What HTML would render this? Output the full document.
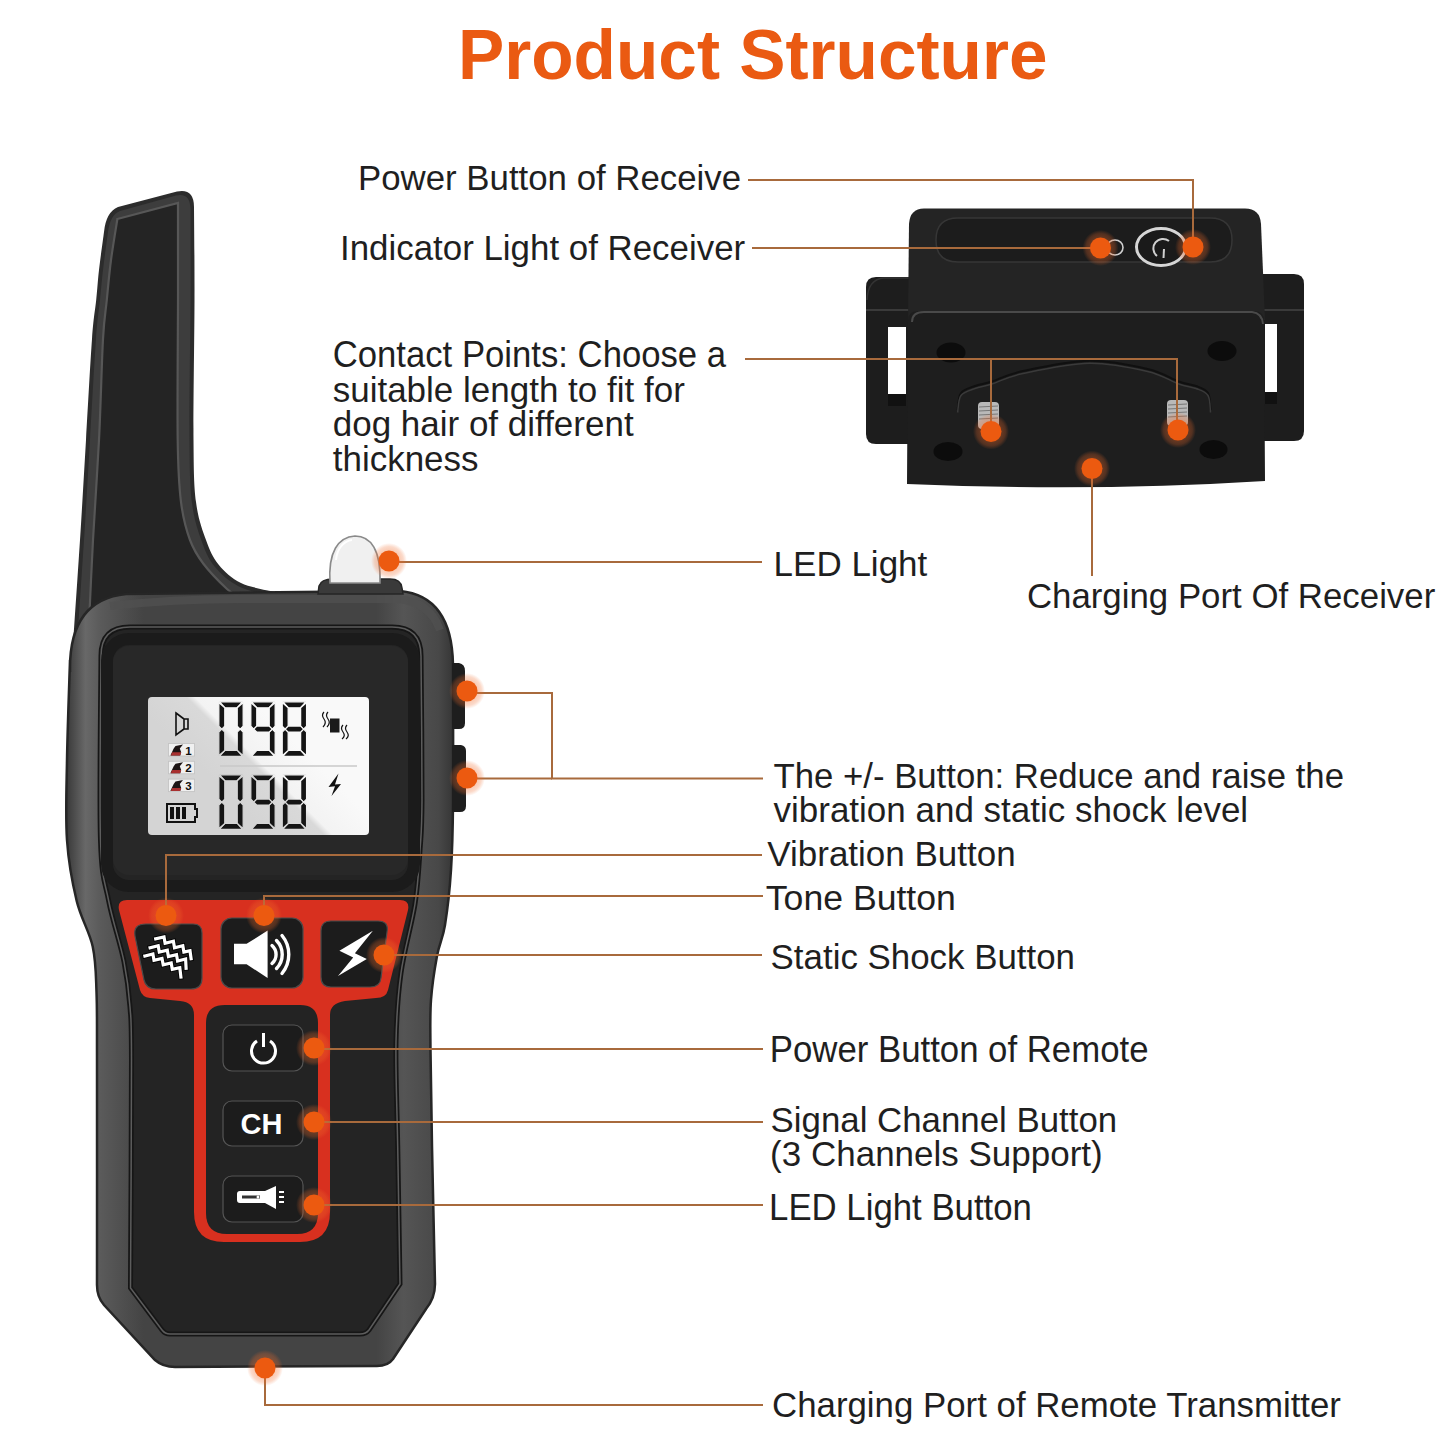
<!DOCTYPE html>
<html><head><meta charset="utf-8">
<style>
html,body{margin:0;padding:0;background:#fff;width:1445px;height:1445px;overflow:hidden}
svg{position:absolute;left:0;top:0}
.t{font-family:"Liberation Sans",sans-serif;font-size:36px;fill:#1f1f1f}
.title{font-family:"Liberation Sans",sans-serif;font-weight:bold;font-size:71px;fill:#ea5a12}
</style></head><body>
<svg width="1445" height="1445" viewBox="0 0 1445 1445">
<defs>
  <linearGradient id="bodyg" gradientUnits="userSpaceOnUse" x1="66" y1="0" x2="454" y2="0">
    <stop offset="0" stop-color="#383838"/>
    <stop offset="0.05" stop-color="#686868"/>
    <stop offset="0.09" stop-color="#5a5a5a"/>
    <stop offset="0.2" stop-color="#444"/>
    <stop offset="0.8" stop-color="#444"/>
    <stop offset="0.87" stop-color="#555"/>
    <stop offset="0.96" stop-color="#484848"/>
    <stop offset="1" stop-color="#353535"/>
  </linearGradient>
  <radialGradient id="halo">
    <stop offset="0.5" stop-color="#f06a2a" stop-opacity="0.4"/>
    <stop offset="0.8" stop-color="#f06a2a" stop-opacity="0.25"/>
    <stop offset="1" stop-color="#f06a2a" stop-opacity="0"/>
  </radialGradient>
  <linearGradient id="lcd" gradientUnits="userSpaceOnUse" x1="229" y1="796" x2="289" y2="736">
    <stop offset="0" stop-color="#d4d4d4"/>
    <stop offset="0.47" stop-color="#d9d9d9"/>
    <stop offset="0.54" stop-color="#f3f3f3"/>
    <stop offset="1" stop-color="#f9f9f9"/>
  </linearGradient>
</defs>

<!-- TITLE -->
<text class="title" x="458" y="79" textLength="589.5" lengthAdjust="spacingAndGlyphs">Product Structure</text>

<!-- ============ REMOTE ============ -->
<g id="remote">
  <!-- antenna -->
  <path d="M104,232 Q106,212 118,207 L177,191.5 Q194,188 194,207 C194.1,222.5 194.6,261.2 194.5,300.0 C194.4,338.8 193.2,406.3 193.5,440.0 C193.8,473.7 193.9,485.3 196.0,502.0 C198.1,518.7 202.2,529.6 206.0,540.0 C209.8,550.4 212.7,557.3 218.5,564.5 C224.3,571.7 231.6,578.4 241.0,583.0 C250.4,587.6 269.3,590.5 275.0,592.0 L300,600 L73,660 L73,645 C74.2,627.5 77.8,574.2 80.0,540.0 C82.2,505.8 84.0,473.5 86.0,440.0 C88.0,406.5 90.3,362.3 92.0,339.0 C93.7,315.7 95.0,311.5 96.2,300.0 C97.4,288.5 97.7,281.3 99.0,270.0 C100.3,258.7 103.2,238.3 104.0,232.0 Z" fill="#2c2c2c"/>
  <path d="M108,232 Q110,215 120,211 L176,195.5 Q190.5,192 190.5,210 C190.5,225.0 190.7,261.7 190.5,300.0 C190.3,338.3 189.2,406.2 189.5,440.0 C189.8,473.8 189.9,486.0 192.0,503.0 C194.1,520.0 198.2,531.3 202.0,542.0 C205.8,552.7 209.0,559.7 215.0,567.0 C221.0,574.3 228.8,581.2 238.0,586.0 C247.2,590.8 264.7,594.3 270.0,596.0 L300,600 L77,660 L77,645 C78.2,627.5 81.8,574.2 84.0,540.0 C86.2,505.8 88.0,473.5 90.0,440.0 C92.0,406.5 94.3,362.3 96.0,339.0 C97.7,315.7 98.8,311.5 100.0,300.0 C101.2,288.5 101.7,281.3 103.0,270.0 C104.3,258.7 107.2,238.3 108.0,232.0 Z" fill="#3d3d3d"/>
  <path d="M117.4,219 L178,203 C178.0,219.2 178.1,260.5 178.0,300.0 C177.9,339.5 177.2,406.3 177.7,440.0 C178.2,473.7 178.9,485.3 181.0,502.0 C183.1,518.7 186.2,529.7 190.0,540.0 C193.8,550.3 197.4,555.8 203.6,564.0 C209.8,572.2 220.9,583.3 227.0,589.0 C233.1,594.7 237.8,596.5 240.0,598.0 L88,660 L88,645 C88.8,627.5 91.2,574.2 93.0,540.0 C94.8,505.8 97.3,473.5 99.0,440.0 C100.7,406.5 101.7,362.3 103.0,339.0 C104.3,315.7 105.5,313.2 106.8,300.0 C108.1,286.8 109.2,273.5 111.0,260.0 C112.8,246.5 116.3,225.8 117.4,219.0 Z" fill="#242424" stroke="#575757" stroke-width="2.2"/>
  <!-- body outer -->
  <path d="M70,672 C69,626 86,598 126,594 L400,591 Q452,596 453,665 C453.0,688.2 453.3,769.8 453.0,804.0 C452.7,838.2 452.3,849.8 451.0,870.0 C449.7,890.2 447.3,910.7 445.0,925.0 C442.7,939.3 439.3,943.5 437.0,956.0 C434.7,968.5 432.1,984.3 431.0,1000.0 C429.9,1015.7 430.3,1025.7 430.5,1050.0 C430.7,1074.3 431.2,1107.0 432.0,1146.0 C432.8,1185.0 434.5,1261.0 435.0,1284.0 Q435,1298 426,1309 L393,1359 Q388,1366 377,1366 L175,1367 Q163,1367 155,1360 L104,1305 Q97,1297 97,1285 C97.0,1247.5 97.1,1108.8 97.0,1060.0 C96.9,1011.2 97.2,1010.9 96.5,992.0 C95.8,973.1 96.0,961.7 92.7,946.5 C89.4,931.3 81.0,918.8 76.7,901.0 C72.4,883.2 68.6,863.5 67.0,840.0 C65.4,816.5 66.5,790.0 67.0,760.0 C67.5,730.0 69.5,676.7 70.0,660.0 Z" fill="url(#bodyg)" stroke="#262626" stroke-width="2.5"/>
  <!-- top rim highlight -->
  <path d="M110,606 Q180,598 260,599 L398,599 Q430,602 440,630" fill="none" stroke="#505050" stroke-width="8" opacity="0.8"/>
  <!-- inner face -->
  <path d="M101,656 Q101,627 130,627 L392,627 Q421,627 421,656 C421.2,680.0 422.2,767.7 422.0,800.0 C421.8,832.3 421.2,832.7 420.0,850.0 C418.8,867.3 418.2,883.5 415.0,904.0 C411.8,924.5 404.2,950.0 401.0,973.0 C397.8,996.0 396.6,1013.2 396.0,1042.0 C395.4,1070.8 397.0,1105.7 397.7,1146.0 C398.4,1186.3 399.6,1261.0 400.0,1284.0 L369,1330 Q366,1334 360,1334 L170,1334 Q165,1334 162,1330 L130.5,1288 C130.7,1250.0 131.6,1106.8 131.5,1060.0 C131.4,1013.2 131.2,1023.4 130.0,1007.0 C128.8,990.6 127.5,979.4 124.0,961.7 C120.5,944.0 112.6,921.3 108.7,901.0 C104.8,880.7 101.8,880.8 100.5,840.0 C99.2,799.2 100.9,686.7 101.0,656.0 Z" fill="#242424" stroke="#161616" stroke-width="5"/>
  <path d="M101,656 Q101,627 130,627 L392,627 Q421,627 421,656 C421.2,680.0 422.2,767.7 422.0,800.0 C421.8,832.3 421.2,832.7 420.0,850.0 C418.8,867.3 418.2,883.5 415.0,904.0 C411.8,924.5 404.2,950.0 401.0,973.0 C397.8,996.0 396.6,1013.2 396.0,1042.0 C395.4,1070.8 397.0,1105.7 397.7,1146.0 C398.4,1186.3 399.6,1261.0 400.0,1284.0 L369,1330 Q366,1334 360,1334 L170,1334 Q165,1334 162,1330 L130.5,1288 C130.7,1250.0 131.6,1106.8 131.5,1060.0 C131.4,1013.2 131.2,1023.4 130.0,1007.0 C128.8,990.6 127.5,979.4 124.0,961.7 C120.5,944.0 112.6,921.3 108.7,901.0 C104.8,880.7 101.8,880.8 100.5,840.0 C99.2,799.2 100.9,686.7 101.0,656.0 Z" fill="none" stroke="#5c5c5c" stroke-width="1.5"/>
  <!-- screen glass -->
  <rect x="107" y="639" width="307" height="247" rx="22" fill="none" stroke="#1b1b1b" stroke-width="12"/>
  <rect x="113" y="646" width="295" height="229" rx="16" fill="#282828"/>
  <!-- LCD -->
  <rect x="148" y="697" width="221" height="138" rx="4" fill="url(#lcd)"/>
  <line x1="220" y1="766" x2="357" y2="766" stroke="#c9c9c9" stroke-width="1.6"/>
  <g fill="#151515" stroke="url(#lcd)" stroke-width="1.3" stroke-linejoin="round"><polygon points="219.40,701.80 242.60,701.80 237.20,707.80 224.80,707.80"/><polygon points="243.20,702.40 237.20,707.80 237.20,726.10 240.20,729.10 243.20,726.10"/><polygon points="243.20,732.10 240.20,729.10 237.20,732.10 237.20,750.40 243.20,755.80"/><polygon points="219.40,756.40 242.60,756.40 237.20,750.40 224.80,750.40"/><polygon points="218.80,732.10 221.80,729.10 224.80,732.10 224.80,750.40 218.80,755.80"/><polygon points="218.80,702.40 224.80,707.80 224.80,726.10 221.80,729.10 218.80,726.10"/><polygon points="251.40,701.80 274.60,701.80 269.20,707.80 256.80,707.80"/><polygon points="275.20,702.40 269.20,707.80 269.20,726.10 272.20,729.10 275.20,726.10"/><polygon points="275.20,732.10 272.20,729.10 269.20,732.10 269.20,750.40 275.20,755.80"/><polygon points="251.40,756.40 274.60,756.40 269.20,750.40 256.80,750.40"/><polygon points="250.80,702.40 256.80,707.80 256.80,726.10 253.80,729.10 250.80,726.10"/><polygon points="253.80,729.10 256.80,726.10 269.20,726.10 272.20,729.10 269.20,732.10 256.80,732.10"/><polygon points="282.80,701.80 306.00,701.80 300.60,707.80 288.20,707.80"/><polygon points="306.60,702.40 300.60,707.80 300.60,726.10 303.60,729.10 306.60,726.10"/><polygon points="306.60,732.10 303.60,729.10 300.60,732.10 300.60,750.40 306.60,755.80"/><polygon points="282.80,756.40 306.00,756.40 300.60,750.40 288.20,750.40"/><polygon points="282.20,732.10 285.20,729.10 288.20,732.10 288.20,750.40 282.20,755.80"/><polygon points="282.20,702.40 288.20,707.80 288.20,726.10 285.20,729.10 282.20,726.10"/><polygon points="285.20,729.10 288.20,726.10 300.60,726.10 303.60,729.10 300.60,732.10 288.20,732.10"/><polygon points="219.40,774.80 242.60,774.80 237.20,780.80 224.80,780.80"/><polygon points="243.20,775.40 237.20,780.80 237.20,799.10 240.20,802.10 243.20,799.10"/><polygon points="243.20,805.10 240.20,802.10 237.20,805.10 237.20,823.40 243.20,828.80"/><polygon points="219.40,829.40 242.60,829.40 237.20,823.40 224.80,823.40"/><polygon points="218.80,805.10 221.80,802.10 224.80,805.10 224.80,823.40 218.80,828.80"/><polygon points="218.80,775.40 224.80,780.80 224.80,799.10 221.80,802.10 218.80,799.10"/><polygon points="251.40,774.80 274.60,774.80 269.20,780.80 256.80,780.80"/><polygon points="275.20,775.40 269.20,780.80 269.20,799.10 272.20,802.10 275.20,799.10"/><polygon points="275.20,805.10 272.20,802.10 269.20,805.10 269.20,823.40 275.20,828.80"/><polygon points="251.40,829.40 274.60,829.40 269.20,823.40 256.80,823.40"/><polygon points="250.80,775.40 256.80,780.80 256.80,799.10 253.80,802.10 250.80,799.10"/><polygon points="253.80,802.10 256.80,799.10 269.20,799.10 272.20,802.10 269.20,805.10 256.80,805.10"/><polygon points="282.80,774.80 306.00,774.80 300.60,780.80 288.20,780.80"/><polygon points="306.60,775.40 300.60,780.80 300.60,799.10 303.60,802.10 306.60,799.10"/><polygon points="306.60,805.10 303.60,802.10 300.60,805.10 300.60,823.40 306.60,828.80"/><polygon points="282.80,829.40 306.00,829.40 300.60,823.40 288.20,823.40"/><polygon points="282.20,805.10 285.20,802.10 288.20,805.10 288.20,823.40 282.20,828.80"/><polygon points="282.20,775.40 288.20,780.80 288.20,799.10 285.20,802.10 282.20,799.10"/><polygon points="285.20,802.10 288.20,799.10 300.60,799.10 303.60,802.10 300.60,805.10 288.20,805.10"/></g>
  <!-- LCD icons -->
  <path d="M176,713 L184,719 L184,729 L176,735 Z M184,719 L188,719 L188,729 L184,729" fill="none" stroke="#111" stroke-width="1.6"/>
  <g>
    <rect x="168.5" y="743.5" width="26" height="12.5" fill="#f0f0f0" stroke="#c4c4c4" stroke-width="0.9"/>
    <path d="M170.4,755.5 L173.7,748.5 L175.5,746.0 L183,744.5 L179.8,748.5 L181.2,752.3 L180.2,755.5 Z" fill="#1c1414"/>
    <path d="M172.2,752.3 L181.2,752.3 L180.2,755.5 L170.8,755.5 Z" fill="#a83030"/>
    <text x="185.3" y="754.5" font-family="Liberation Sans" font-weight="bold" font-size="11.5" fill="#111">1</text>
    <rect x="168.5" y="761.3" width="26" height="12.5" fill="#f0f0f0" stroke="#c4c4c4" stroke-width="0.9"/>
    <path d="M170.4,773.3 L173.7,766.3 L175.5,763.8 L183,762.3 L179.8,766.3 L181.2,770.1 L180.2,773.3 Z" fill="#1c1414"/>
    <path d="M172.2,770.1 L181.2,770.1 L180.2,773.3 L170.8,773.3 Z" fill="#a83030"/>
    <text x="185.3" y="772.3" font-family="Liberation Sans" font-weight="bold" font-size="11.5" fill="#111">2</text>
    <rect x="168.5" y="779.1" width="26" height="12.5" fill="#f0f0f0" stroke="#c4c4c4" stroke-width="0.9"/>
    <path d="M170.4,791.1 L173.7,784.1 L175.5,781.6 L183,780.1 L179.8,784.1 L181.2,787.9 L180.2,791.1 Z" fill="#1c1414"/>
    <path d="M172.2,787.9 L181.2,787.9 L180.2,791.1 L170.8,791.1 Z" fill="#a83030"/>
    <text x="185.3" y="790.1" font-family="Liberation Sans" font-weight="bold" font-size="11.5" fill="#111">3</text>
  </g>
  <path d="M167,804 L195,804 L195,809 L197,809 L197,817 L195,817 L195,822 L167,822 Z" fill="none" stroke="#111" stroke-width="2"/>
  <rect x="170" y="807" width="4" height="12" fill="#111"/>
  <rect x="176" y="807" width="4" height="12" fill="#111"/>
  <rect x="182" y="807" width="4" height="12" fill="#111"/>
  <rect x="330" y="718.5" width="9.5" height="14" fill="#1a1a1a"/>
  <path d="M324,712 Q321,715 324,719 Q327,723 323,727 M328,712 Q325,715 328,719 Q331,723 327,727 M343,725 Q340,728 343,732 Q346,736 342,739 M347,725 Q344,728 347,732 Q350,736 346,739" fill="none" stroke="#111" stroke-width="1.2"/>
  <path d="M338.5,773.5 L328.5,787 L335,786.3 L331.5,796 L341,784 L335,784.6 Z" fill="#111"/>
  <!-- LED dome base -->
  <path d="M318,594 L319,586 Q321,579 333,579 L390,579 Q401,579 402,588 L403,594 Z" fill="#3a3a3a" stroke="#262626" stroke-width="1.5"/>
  <path d="M330,583 C328,552 338,537 355,536 C371,536 381,550 380,583 Z" fill="#f0f0f0" stroke="#8a8a8a" stroke-width="1.6"/>
  <path d="M336,560 C337,548 344,541 352,540" fill="none" stroke="#fff" stroke-width="2"/>
  <!-- side buttons -->
  <path d="M452,663 L459,663 Q465,664 465,671 L465,723 Q465,729 459,729 L452,729 Z" fill="#1e1e1e"/>
  <path d="M452,745 L461,745 Q466,746 466,751 L466,806 Q466,812 460,812 L452,812 Z" fill="#1e1e1e"/>

  <!-- red T panel -->
  <path d="M127,900 L400,900 Q410,900 408,910 L388,990 Q386,998 376,998 L345,1001 Q330,1003 330,1015 L330,1212 Q330,1242 300,1242 L224,1242 Q194,1242 194,1212 L194,1015 Q194,1002 180,1001 L150,998 Q142,997 140,990 L119,910 Q117,900 127,900 Z" fill="#d8301f"/>
  <!-- dark stem -->
  <path d="M225,1005 L300,1005 Q318,1005 318,1023 L318,1213 Q318,1234 297,1234 L227,1234 Q206,1234 206,1213 L206,1023 Q206,1005 225,1005 Z" fill="#232323"/>
  <!-- top buttons -->
  <path d="M146,924 L193,924 Q202,924 202,933 L202,978 Q202,989 191,989 L156,989 Q146,989 144,980 L135,936 Q133,924 146,924 Z" fill="#1c1c1c" stroke="#4a4a4a" stroke-width="1.2"/>
  <rect x="221" y="918" width="82" height="70" rx="11" fill="#1c1c1c" stroke="#4a4a4a" stroke-width="1.2"/>
  <path d="M331,921 L378,921 Q389,921 387,932 L381,978 Q380,987 370,987 L331,987 Q321,987 321,977 L321,931 Q321,921 331,921 Z" fill="#1c1c1c" stroke="#4a4a4a" stroke-width="1.2"/>
  <!-- vibration zigzags -->
  <g fill="none" stroke-linejoin="miter" stroke-linecap="square">
    <g stroke="#000" stroke-width="5">
      <path d="M155.7,938.8 L164,936.9 L165.1,943.2 L173.4,941.3 L174.5,947.7 L182.8,945.7 L183.9,952.1 L190,950.7 L191.1,958.7"/>
      <path d="M150.1,947.7 L158.2,945.7 L159.3,952.1 L167.3,950.2 L168.4,956.5 L176.5,954.6 L177.6,961 L185.6,959 L186.1,968.2"/>
      <path d="M144.9,956 L152.9,954 L154,960.4 L162,958.5 L163.2,964.8 L171.2,962.9 L172.3,969.3 L179.8,967.6 L180.9,977"/>
    </g>
    <g stroke="#fff" stroke-width="3.2">
      <path d="M155.7,938.8 L164,936.9 L165.1,943.2 L173.4,941.3 L174.5,947.7 L182.8,945.7 L183.9,952.1 L190,950.7 L191.1,958.7"/>
      <path d="M150.1,947.7 L158.2,945.7 L159.3,952.1 L167.3,950.2 L168.4,956.5 L176.5,954.6 L177.6,961 L185.6,959 L186.1,968.2"/>
      <path d="M144.9,956 L152.9,954 L154,960.4 L162,958.5 L163.2,964.8 L171.2,962.9 L172.3,969.3 L179.8,967.6 L180.9,977"/>
    </g>
  </g>
  <!-- speaker icon -->
  <path d="M234,943.8 L246.6,943.8 L267.6,930.6 L267.6,978 L246.6,964.2 L234,964.2 Z" fill="#fff"/>
  <g fill="none" stroke="#fff" stroke-width="3.4" stroke-linecap="round">
    <path d="M272,945.5 A12,12 0 0,1 272,963.5"/>
    <path d="M276.5,940.5 A20,20 0 0,1 276.5,968.5"/>
    <path d="M282,935.5 A30,30 0 0,1 282,973.5"/>
  </g>
  <!-- lightning -->
  <path d="M372.9,930.8 L339.4,950.7 L353.2,957.6 L338,975.9 L366.8,959 L354.9,953.2 Z" fill="#fff"/>
  <!-- lower buttons -->
  <rect x="223" y="1025" width="80" height="46" rx="9" fill="#1c1c1c" stroke="#555" stroke-width="1.2"/>
  <rect x="223" y="1101" width="80" height="45" rx="9" fill="#1c1c1c" stroke="#555" stroke-width="1.2"/>
  <rect x="223" y="1176" width="80" height="46" rx="9" fill="#1c1c1c" stroke="#555" stroke-width="1.2"/>
  <path d="M257,1041 A12,12 0 1,0 270,1041" fill="none" stroke="#fff" stroke-width="3"/>
  <line x1="263.5" y1="1033" x2="263.5" y2="1047" stroke="#fff" stroke-width="3"/>
  <text x="261.5" y="1133.5" text-anchor="middle" font-family="Liberation Sans" font-weight="bold" font-size="29" fill="#fff">CH</text>
  <path d="M240,1191 L265,1191 L276,1186 L276,1209 L265,1203 L240,1203 Q237,1203 237,1200 L237,1194 Q237,1191 240,1191 Z" fill="#fff"/>
  <rect x="242" y="1195.5" width="18" height="3" fill="#333"/>
  <circle cx="258" cy="1197" r="1.5" fill="#fff"/>
  <g stroke="#fff" stroke-width="2"><line x1="279" y1="1192" x2="284" y2="1192"/><line x1="279" y1="1197" x2="284" y2="1197"/><line x1="279" y1="1202" x2="284" y2="1202"/></g>
</g>

<!-- ============ RECEIVER ============ -->
<g id="receiver">
  <!-- strap loops -->
  <path d="M876,277 L912,277 L912,444 L876,444 Q866,444 866,434 L866,287 Q866,277 876,277 Z" fill="#1d1d1d"/>
  <rect x="888" y="327" width="18" height="67" fill="#ffffff"/>
  <path d="M1255,274 L1294,274 Q1304,274 1304,284 L1304,431 Q1304,441 1294,441 L1255,441 Z" fill="#1d1d1d"/>
  <rect x="1265" y="324" width="12" height="68" fill="#ffffff"/>
  <path d="M866,310 L910,310" stroke="#3a3a3a" stroke-width="2"/>
  <path d="M867,300 Q868,279 884,278 L910,278" fill="none" stroke="#333" stroke-width="1.5"/>
  <path d="M1304,310 L1262,310" stroke="#3a3a3a" stroke-width="2"/>
  <rect x="888" y="394" width="18" height="12" fill="#111"/>
  <rect x="1265" y="392" width="12" height="12" fill="#111"/>
  <!-- top box -->
  <path d="M924,208.5 L1245,208.5 Q1260,208.5 1261,224 L1265,320 L908,320 L909,224 Q910,208.5 924,208.5 Z" fill="#242424"/>
  <!-- pill strip -->
  <path d="M958,218 L1210,218 Q1232,218 1232,240 Q1232,262 1210,262 L958,262 Q936,262 936,240 Q936,218 958,218 Z" fill="#1c1c1c" stroke="#363636" stroke-width="1.5"/>
  <ellipse cx="1115" cy="247.5" rx="8" ry="7.5" fill="none" stroke="#cfcfcf" stroke-width="1.6"/>
  <ellipse cx="1161" cy="247" rx="24.5" ry="18.5" fill="#1a1a1a" stroke="#d6d6d6" stroke-width="3"/>
  <path d="M1169,241 A9.5,9.5 0 1,0 1157,256" fill="none" stroke="#d0d0d0" stroke-width="2"/>
  <line x1="1164" y1="249" x2="1163.5" y2="258" stroke="#d0d0d0" stroke-width="2"/>
  <!-- front face -->
  <path d="M918,311 L1254,311 Q1264,311 1264,321 L1265,481 Q1090,492 907,484 L908,321 Q908,311 918,311 Z" fill="#1e1e1e"/>
  <path d="M912,322 Q912,312 924,312 L1252,312 Q1262,313 1263,324" fill="none" stroke="#4a4a4a" stroke-width="2"/>
  <!-- holes -->
  <ellipse cx="951" cy="352.5" rx="14.5" ry="10" fill="#0c0c0c"/>
  <ellipse cx="1222" cy="351" rx="14.5" ry="10" fill="#0c0c0c"/>
  <ellipse cx="948" cy="451.5" rx="14.5" ry="9.5" fill="#0c0c0c"/>
  <ellipse cx="1213.5" cy="449.5" rx="14" ry="9.5" fill="#0c0c0c"/>
  <!-- raised plate -->
  <path d="M957.6,410 C958.2,407.2 958.1,397.0 961.0,393.0 C963.9,389.0 969.9,387.9 975.0,386.0 C980.1,384.1 983.9,384.0 991.9,381.5 C999.9,379.0 1006.7,374.4 1023.0,371.0 C1039.3,367.6 1068.7,361.1 1089.5,360.8 C1110.3,360.5 1132.7,365.6 1147.6,369.0 C1162.5,372.4 1170.6,378.7 1178.7,381.5 C1186.8,384.3 1191.1,384.1 1196.0,386.0 C1200.9,387.9 1205.6,389.0 1208.0,393.0 C1210.4,397.0 1210.1,407.2 1210.5,410.0" fill="none" stroke="#101010" stroke-width="2"/>
  <path d="M957.6,412.5 C958.2,409.7 958.1,399.5 961.0,395.5 C963.9,391.5 969.9,390.4 975.0,388.5 C980.1,386.6 983.9,386.5 991.9,384.0 C999.9,381.5 1006.7,376.9 1023.0,373.5 C1039.3,370.1 1068.7,363.6 1089.5,363.3 C1110.3,363.0 1132.7,368.1 1147.6,371.5 C1162.5,374.9 1170.6,381.2 1178.7,384.0 C1186.8,386.8 1191.1,386.6 1196.0,388.5 C1200.9,390.4 1205.6,391.5 1208.0,395.5 C1210.4,399.5 1210.1,409.7 1210.5,412.5" fill="none" stroke="#3a3a3a" stroke-width="1.5"/>
  <!-- pins -->
  <rect x="978" y="402" width="21" height="27" rx="4" fill="#b9b9b9"/>
  <rect x="1167" y="400" width="21" height="26" rx="4" fill="#b9b9b9"/>
  <g stroke="#777" stroke-width="1">
    <line x1="979" y1="407" x2="998" y2="406"/><line x1="979" y1="411" x2="998" y2="410"/><line x1="979" y1="415" x2="998" y2="414"/><line x1="979" y1="419" x2="998" y2="418"/>
    <line x1="1168" y1="405" x2="1187" y2="404"/><line x1="1168" y1="409" x2="1187" y2="408"/><line x1="1168" y1="413" x2="1187" y2="412"/><line x1="1168" y1="417" x2="1187" y2="416"/>
  </g>
</g>

<!-- ============ LINES ============ -->
<g stroke="#a86a3c" stroke-width="2" fill="none">
  <polyline points="748,180 1193,180 1193,247"/>
  <polyline points="752,248 1100,248"/>
  <polyline points="745,359 1177,359 1177,431"/>
  <polyline points="991,359 991,432"/>
  <polyline points="1092,468 1092,576"/>
  <polyline points="388,562 762,562"/>
  <polyline points="467,693 552,693 552,778.5 763,778.5"/>
  <polyline points="467,778.5 552,778.5"/>
  <polyline points="166,915 166,855 762,855"/>
  <polyline points="264,915 264,896 763,896"/>
  <polyline points="384,955 762,955"/>
  <polyline points="313,1049 763,1049"/>
  <polyline points="314,1122 763,1122"/>
  <polyline points="314,1205 763,1205"/>
  <polyline points="265,1368 265,1405 763,1405"/>
</g>

<!-- ============ DOTS ============ -->
<g id="dots">
  <circle cx="389" cy="561" r="18" fill="url(#halo)"/><circle cx="389" cy="561" r="10.5" fill="#ec5a10"/>
  <circle cx="1193" cy="247" r="18" fill="url(#halo)"/><circle cx="1193" cy="247" r="10.5" fill="#ec5a10"/>
  <circle cx="1100.5" cy="248" r="18" fill="url(#halo)"/><circle cx="1100.5" cy="248" r="10.5" fill="#ec5a10"/>
  <circle cx="991" cy="431.5" r="18" fill="url(#halo)"/><circle cx="991" cy="431.5" r="10.5" fill="#ec5a10"/>
  <circle cx="1178" cy="430" r="18" fill="url(#halo)"/><circle cx="1178" cy="430" r="10.5" fill="#ec5a10"/>
  <circle cx="1092" cy="468.5" r="18" fill="url(#halo)"/><circle cx="1092" cy="468.5" r="10.5" fill="#ec5a10"/>
  <circle cx="467" cy="691" r="18" fill="url(#halo)"/><circle cx="467" cy="691" r="10.5" fill="#ec5a10"/>
  <circle cx="467" cy="778" r="18" fill="url(#halo)"/><circle cx="467" cy="778" r="10.5" fill="#ec5a10"/>
  <circle cx="166" cy="915.5" r="18" fill="url(#halo)"/><circle cx="166" cy="915.5" r="10.5" fill="#ec5a10"/>
  <circle cx="264" cy="915.5" r="18" fill="url(#halo)"/><circle cx="264" cy="915.5" r="10.5" fill="#ec5a10"/>
  <circle cx="384" cy="955" r="18" fill="url(#halo)"/><circle cx="384" cy="955" r="10.5" fill="#ec5a10"/>
  <circle cx="314" cy="1048" r="18" fill="url(#halo)"/><circle cx="314" cy="1048" r="10.5" fill="#ec5a10"/>
  <circle cx="314" cy="1122" r="18" fill="url(#halo)"/><circle cx="314" cy="1122" r="10.5" fill="#ec5a10"/>
  <circle cx="314" cy="1205" r="18" fill="url(#halo)"/><circle cx="314" cy="1205" r="10.5" fill="#ec5a10"/>
  <circle cx="265" cy="1368" r="18" fill="url(#halo)"/><circle cx="265" cy="1368" r="10.5" fill="#ec5a10"/>
</g>

<!-- ============ LABELS ============ -->
<g class="t">
  <text transform="translate(358,190) scale(0.9671,1)">Power Button of Receive</text>
  <text transform="translate(340,260) scale(0.969,1)">Indicator Light of Receiver</text>
  <text transform="translate(332.7,367) scale(0.964,1)">Contact Points: Choose a</text>
  <text transform="translate(332.7,401.5) scale(0.9722,1)">suitable length to fit for</text>
  <text transform="translate(332.7,436) scale(0.9722,1)">dog hair of different</text>
  <text transform="translate(332.7,470.5) scale(0.9722,1)">thickness</text>
  <text transform="translate(773.6,576) scale(0.9722,1)">LED Light</text>
  <text transform="translate(1026.9,608) scale(0.9677,1)">Charging Port Of Receiver</text>
  <text transform="translate(773.5,788) scale(0.9652,1)">The +/- Button: Reduce and raise the</text>
  <text transform="translate(773.5,822.4) scale(0.9722,1)">vibration and static shock level</text>
  <text transform="translate(767.3,866.4) scale(0.9722,1)">Vibration Button</text>
  <text transform="translate(765.8,910) scale(0.9898,1)">Tone Button</text>
  <text transform="translate(770.6,968.5) scale(0.969,1)">Static Shock Button</text>
  <text transform="translate(769.8,1061.9) scale(0.966,1)">Power Button of Remote</text>
  <text transform="translate(770.6,1132) scale(0.9677,1)">Signal Channel Button</text>
  <text transform="translate(770.1,1165.7) scale(0.9722,1)">(3 Channels Support)</text>
  <text transform="translate(769.1,1220) scale(0.966,1)">LED Light Button</text>
  <text transform="translate(772,1417) scale(0.9677,1)">Charging Port of Remote Transmitter</text>
</g>
</svg>
</body></html>
